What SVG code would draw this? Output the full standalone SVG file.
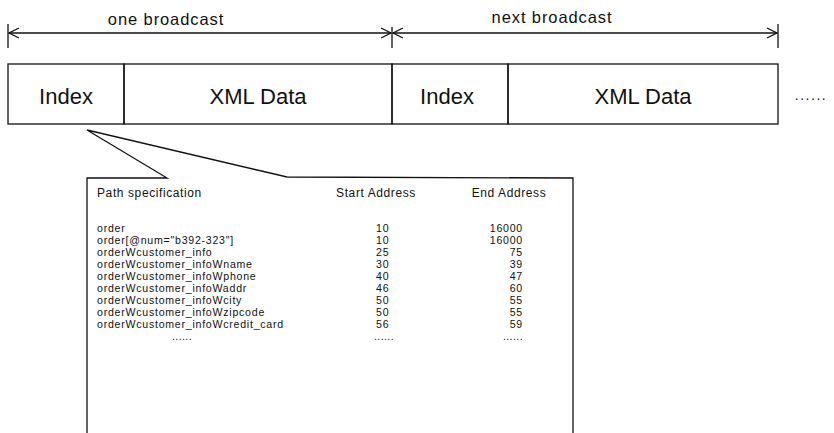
<svg xmlns="http://www.w3.org/2000/svg" width="834" height="433" viewBox="0 0 834 433">
<style>
.ln{stroke:#111;stroke-width:1.3;fill:none}
.big{font-family:"Liberation Sans",Arial,sans-serif;font-size:22px;fill:#111;text-anchor:middle}
.lab{font-family:"Liberation Sans",Arial,sans-serif;font-size:16.5px;fill:#111;text-anchor:middle;letter-spacing:0.9px}
.tb{font-family:"Liberation Sans",Arial,sans-serif;font-size:10.6px;fill:#111;letter-spacing:0.75px}
.hd{font-size:12px;letter-spacing:0.6px}
.r{text-anchor:end}
.c{text-anchor:middle}
</style>
<defs>
<marker id="ah" viewBox="0 0 12 12" refX="11" refY="6" markerWidth="12" markerHeight="12" markerUnits="userSpaceOnUse" orient="auto-start-reverse">
<path d="M1,1 L11,6 L1,11" fill="none" stroke="#111" stroke-width="1.3"/>
</marker>
</defs>
<rect width="834" height="433" fill="#fff"/>
<g id="connectors">
<line class="ln" x1="8" y1="24" x2="8" y2="48"/>
<line class="ln" x1="392" y1="27" x2="392" y2="48"/>
<line class="ln" x1="778" y1="24" x2="778" y2="48"/>
<line class="ln" x1="9" y1="33" x2="391" y2="33" marker-start="url(#ah)" marker-end="url(#ah)"/>
<line class="ln" x1="393" y1="33" x2="777" y2="33" marker-start="url(#ah)" marker-end="url(#ah)"/>
</g>
<g id="labels">
<text class="lab" x="166" y="25">one broadcast</text>
<text class="lab" x="552" y="23">next broadcast</text>
</g>
<g id="index1"><rect class="ln" x="8" y="64" width="116" height="60"/><text class="big" x="66" y="104">Index</text></g>
<g id="xml1"><rect class="ln" x="124" y="64" width="268" height="60"/><text class="big" x="258" y="104">XML Data</text></g>
<g id="index2"><rect class="ln" x="392" y="64" width="116" height="60"/><text class="big" x="447" y="104">Index</text></g>
<g id="xml2"><rect class="ln" x="508" y="64" width="270" height="60"/><text class="big" x="643" y="104">XML Data</text></g>
<g id="more"><text x="811" y="100" font-family="Liberation Sans,Arial,sans-serif" font-size="14" fill="#111" text-anchor="middle" letter-spacing="1.5">......</text></g>
<g id="callout">
<path class="ln" d="M87,433 L87,178 L167,178 L87,130 L287,177 L573,178 L573,433"/>
<text class="tb hd" x="97" y="197">Path specification</text>
<text class="tb hd c" x="376" y="197">Start Address</text>
<text class="tb hd c" x="509" y="197">End Address</text>
<g class="tb">
<text x="97" y="231.5">order</text>
<text x="97" y="243.6">order[@num="b392-323"]</text>
<text x="97" y="255.7">orderWcustomer_info</text>
<text x="97" y="267.8">orderWcustomer_infoWname</text>
<text x="97" y="279.9">orderWcustomer_infoWphone</text>
<text x="97" y="292">orderWcustomer_infoWaddr</text>
<text x="97" y="304.1">orderWcustomer_infoWcity</text>
<text x="97" y="316.2">orderWcustomer_infoWzipcode</text>
<text x="97" y="328.3">orderWcustomer_infoWcredit_card</text>
<text x="182" y="340" class="c" letter-spacing="0.4">......</text>
</g>
<g class="tb">
<text x="376" y="231.5">10</text>
<text x="376" y="243.6">10</text>
<text x="376" y="255.7">25</text>
<text x="376" y="267.8">30</text>
<text x="376" y="279.9">40</text>
<text x="376" y="292">46</text>
<text x="376" y="304.1">50</text>
<text x="376" y="316.2">50</text>
<text x="376" y="328.3">56</text>
<text x="384" y="340" class="c" letter-spacing="0.4">......</text>
</g>
<g class="tb r">
<text x="523" y="231.5">16000</text>
<text x="523" y="243.6">16000</text>
<text x="523" y="255.7">75</text>
<text x="523" y="267.8">39</text>
<text x="523" y="279.9">47</text>
<text x="523" y="292">60</text>
<text x="523" y="304.1">55</text>
<text x="523" y="316.2">55</text>
<text x="523" y="328.3">59</text>
<text x="523" y="340" letter-spacing="0.4">......</text>
</g>
</g>
</svg>
